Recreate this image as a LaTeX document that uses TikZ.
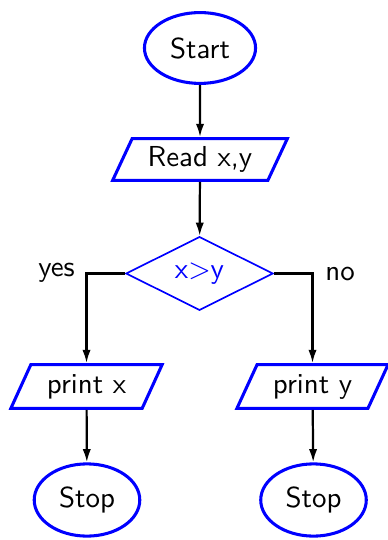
\documentclass[tikz,border=0pt]{standalone}
\usetikzlibrary{shapes.geometric,arrows.meta}
\begin{document}
\begin{tikzpicture}[x=0.36pt,y=-0.36pt,
  font=\sffamily\fontsize{10.4}{12.5}\selectfont,
  term/.style={ellipse,draw=blue,line width=1.1pt,minimum width=40pt,minimum height=25.5pt,inner sep=0pt},
  io/.style={trapezium,trapezium left angle=60,trapezium right angle=120,trapezium stretches=true,
             draw=blue,line width=1.1pt,inner sep=0pt},
  test/.style={diamond,draw=blue,line width=0.6pt,text=blue,minimum width=53pt,minimum height=26.5pt,inner sep=0pt},
  flow/.style={draw=black,line width=0.8pt,-{Latex[length=4.8pt,width=3pt]}},
  lbl/.style={inner sep=1pt}]
  \useasboundingbox (0,0) rectangle (387,540);

  \node[term] (start) at (200,48) {Start};
  \node[io,minimum width=63pt,minimum height=15pt] (read) at (200,159.5) {Read x,y};
  \node[test] (cmp) at (199.5,273.5) {x>y};
  \node[io,minimum width=54.5pt,minimum height=15.7pt] (px) at (86.5,386.5) {print x};
  \node[io,minimum width=54.5pt,minimum height=15.7pt] (py) at (312.5,386.5) {print y};
  \node[term,minimum width=38pt,minimum height=26pt] (stopx) at (87,500) {Stop};
  \node[term,minimum width=38pt,minimum height=26pt] (stopy) at (313.5,500) {Stop};

  \draw[flow] (start) -- (read);
  \draw[flow] (read) -- (cmp);
  \draw[flow] (cmp.west) -| (px.north);
  \draw[flow] (cmp.east) -| (py.north);
  \draw[flow] (px) -- (stopx);
  \draw[flow] (py) -- (stopy);

  \node[lbl,anchor=east] (yes) at (78,273) {yes};
  \node[lbl,anchor=west] (no) at (322,274) {no};
\end{tikzpicture}
\end{document}
